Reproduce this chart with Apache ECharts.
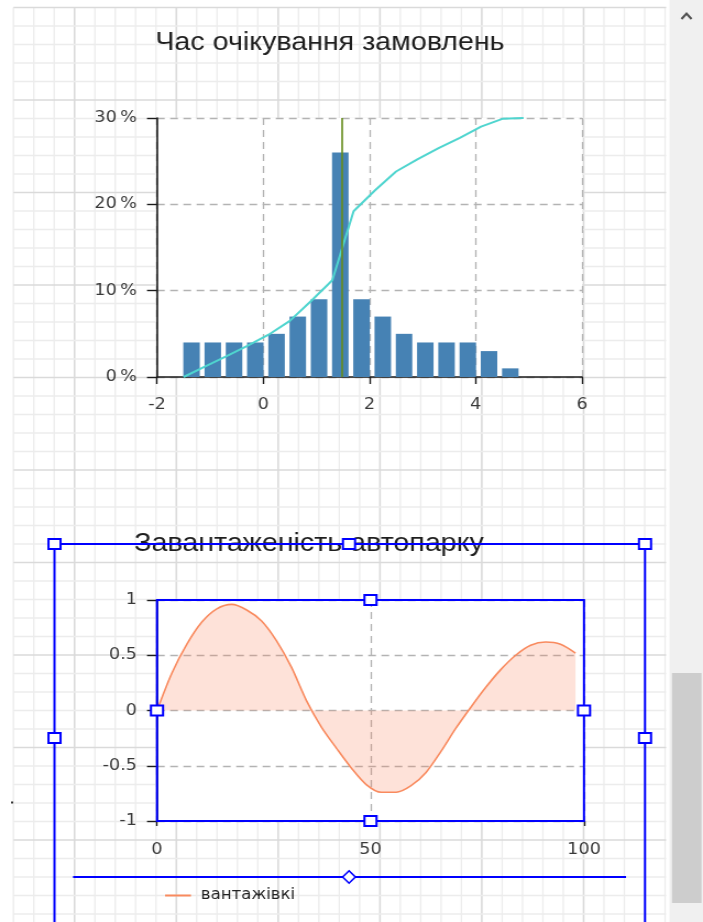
<!DOCTYPE html>
<html>
<head>
<meta charset="utf-8">
<script src="https://cdn.jsdelivr.net/npm/echarts@6/dist/echarts.min.js"></script>
<style>
  html, body { margin: 0; padding: 0; background: #ffffff; overflow: hidden; }
  #wrap { width: 703px; height: 922px; overflow: hidden; position: relative; }
  #chart { width: 639px; height: 922px; transform: scaleX(1.100156); transform-origin: 0 0; }
</style>
</head>
<body>
<div id="wrap"><div id="chart"></div></div>
<script>
// ---------------- data ----------------
const waitTitle = 'Час очікування замовлень';
const waitBinCenters = [-1.35, -0.95, -0.55, -0.15, 0.25, 0.65, 1.05, 1.45, 1.85, 2.25, 2.65, 3.05, 3.45, 3.85, 4.25, 4.65];
const waitBinPercent = [4, 4, 4, 4, 5, 7, 9, 26, 9, 7, 5, 4, 4, 4, 3, 1];
const waitCumX = [-1.5, -1.1, -0.7, -0.3, 0.1, 0.5, 0.9, 1.3, 1.7, 2.1, 2.5, 2.9, 3.3, 3.7, 4.1, 4.5, 4.9];
const waitCumPercent = [0, 1.2, 2.4, 3.6, 4.9, 6.5, 8.8, 11.2, 19.2, 21.6, 23.8, 25.2, 26.5, 27.7, 29.0, 29.9, 30];
const waitMean = 1.47;
const waitXTicks = [-2, 0, 2, 4, 6];
const waitYTicks = [0, 10, 20, 30];

const loadTitle = 'Завантаженість автопарку';
const loadSeriesName = 'вантажівкі';
const loadX = [0, 3.5, 7, 10.5, 14, 17.5, 21, 24.5, 28, 31.5, 35, 38.5, 42, 45.5, 49, 52.5, 56, 59.5, 63, 66.5, 70, 73.5, 77, 80.5, 84, 87.5, 91, 94.5, 98];
const loadY = [0, 0.34, 0.6, 0.8, 0.92, 0.96, 0.91, 0.81, 0.63, 0.39, 0.09, -0.15, -0.34, -0.52, -0.67, -0.74, -0.74, -0.68, -0.56, -0.37, -0.16, 0.03, 0.21, 0.37, 0.5, 0.59, 0.62, 0.6, 0.52];
const loadXTicks = [0, 50, 100];
const loadYTicks = [-1, -0.5, 0, 0.5, 1];

// ---------------- layout helpers ----------------
const W = 639;
const SX = 703 / W;
const px = v => v / SX;           // screen x -> drawing x

const labelFont = 'DejaVu Sans';
const titleFont = 'Liberation Sans';
const axisDark = '#1c1c1c';
const splitGray = '#b3b3b3';
const blue = '#0000ff';

const g1 = { left: px(157), top: 118, width: px(582) - px(157), height: 259 };
const g2 = { left: px(157), top: 600, width: px(584) - px(157), height: 221 };

// ---------------- decorative background ----------------
function backgroundGrid() {
  const els = [];
  const x0 = 12.2, y0 = 7.5, cw = 18.51, ch = 18.5, xEnd = 605.5, yEnd = 922;
  for (let k = 0; x0 + k * cw <= xEnd; k++) {
    const x = x0 + k * cw;
    const major = k % 5 === 3;
    els.push({ type: 'line', silent: true, z: -10,
      shape: { x1: x, y1: y0, x2: x, y2: yEnd },
      style: { stroke: major ? '#dadada' : '#ececec', lineWidth: major ? 1.6 : 1.3 } });
  }
  for (let k = 0; y0 + k * ch <= yEnd; k++) {
    const y = y0 + k * ch;
    const major = k % 5 === 0;
    els.push({ type: 'line', silent: true, z: -10,
      shape: { x1: x0, y1: y, x2: xEnd, y2: y },
      style: { stroke: major ? '#dadada' : '#ececec', lineWidth: major ? 1.6 : 1.3 } });
  }
  return els;
}

function handle(cx, cy) {
  return { type: 'rect', silent: true, z: 200,
    shape: { x: cx - 5.5, y: cy - 5, width: 11, height: 10 },
    style: { fill: '#ffffff', stroke: blue, lineWidth: 2 } };
}

function overlays() {
  const els = [];
  // outer selection frame
  const oL = px(54.5), oR = px(645), oT = 544;
  els.push({ type: 'rect', silent: true, z: 190,
    shape: { x: oL, y: oT, width: oR - oL, height: 500 },
    style: { fill: 'none', stroke: blue, lineWidth: 2 } });
  els.push(handle(oL, oT), handle(px(349), oT), handle(oR, oT), handle(oL, 738), handle(oR, 738));
  // inner plot frame
  els.push({ type: 'rect', silent: true, z: 190,
    shape: { x: g2.left, y: g2.top, width: g2.width, height: g2.height },
    style: { fill: 'none', stroke: blue, lineWidth: 2 } });
  const cx = g2.left + g2.width / 2, cy = g2.top + g2.height / 2;
  els.push(handle(cx, g2.top), handle(g2.left, cy), handle(g2.left + g2.width, cy), handle(cx, g2.top + g2.height));
  // horizontal guide with diamond
  els.push({ type: 'line', silent: true, z: 190,
    shape: { x1: px(73), y1: 877, x2: px(626), y2: 877 },
    style: { stroke: blue, lineWidth: 2 } });
  const dx = px(349), dy = 877, hw = 5.8, hh = 6.2;
  els.push({ type: 'polygon', silent: true, z: 200,
    shape: { points: [[dx, dy - hh], [dx + hw, dy], [dx, dy + hh], [dx - hw, dy]] },
    style: { fill: '#ffffff', stroke: blue, lineWidth: 1.6 } });
  // stray dot
  els.push({ type: 'rect', silent: true, z: 5, shape: { x: 10, y: 801.5, width: 2, height: 2 }, style: { fill: '#333' } });
  // scrollbar
  els.push({ type: 'rect', silent: true, z: 50, shape: { x: px(669.5), y: 0, width: W - px(669.5), height: 922 }, style: { fill: '#f0f0f0' } });
  els.push({ type: 'rect', silent: true, z: 51, shape: { x: px(672), y: 673, width: px(701.5) - px(672), height: 230 }, style: { fill: '#cdcdcd' } });
  els.push({ type: 'polyline', silent: true, z: 52,
    shape: { points: [[px(681.5), 19], [px(686.5), 13.5], [px(691.5), 19]] },
    style: { stroke: '#505050', lineWidth: 2, fill: 'none' } });
  return els;
}

// ---------------- axes ----------------
function valueAxis(gridIndex, ticks, opts) {
  return Object.assign({
    gridIndex: gridIndex, type: 'value',
    min: ticks[0], max: ticks[ticks.length - 1], interval: ticks[1] - ticks[0],
    axisLine: { show: true, onZero: false, lineStyle: { color: axisDark, width: 1.6 } },
    axisTick: { show: true, length: 7, lineStyle: { color: axisDark, width: 1.4 } },
    axisLabel: { margin: 19, fontFamily: labelFont, fontSize: 16, color: '#3a3a3a' },
    splitLine: { show: true, lineStyle: { color: splitGray, type: [7, 5], width: 1.3 } }
  }, opts || {});
}

const chart = echarts.init(document.getElementById('chart'), null, { renderer: 'canvas' });

const option = {
  backgroundColor: 'transparent',
  animation: false,
  title: [
    { text: waitTitle, left: px(330), top: 29.5, textAlign: 'center', padding: 0,
      textStyle: { fontFamily: titleFont, fontSize: 26, fontWeight: 'normal', color: '#1e1e1e' } },
    { text: loadTitle, left: px(309), top: 530.5, textAlign: 'center', padding: 0,
      textStyle: { fontFamily: titleFont, fontSize: 26, fontWeight: 'normal', color: '#1e1e1e' } }
  ],
  grid: [
    Object.assign({ show: true, backgroundColor: '#ffffff', borderWidth: 0, containLabel: false }, g1),
    Object.assign({ show: true, backgroundColor: '#ffffff', borderWidth: 0, containLabel: false }, g2)
  ],
  xAxis: [
    valueAxis(0, waitXTicks, { axisLabel: { margin: 20, fontFamily: labelFont, fontSize: 16, color: '#3a3a3a' } }),
    valueAxis(1, loadXTicks, { axisTick: { show: true, length: 5, lineStyle: { color: axisDark, width: 1.4 } },
      axisLabel: { margin: 21, fontFamily: labelFont, fontSize: 16, color: '#3a3a3a' } })
  ],
  yAxis: [
    valueAxis(0, waitYTicks, { axisTick: { show: true, length: px(10), lineStyle: { color: axisDark, width: 1.4 } },
      axisLabel: { margin: px(20), fontFamily: labelFont, fontSize: 16, color: '#3a3a3a', formatter: '{value}\u202F%' } }),
    valueAxis(1, loadYTicks, { axisTick: { show: true, length: px(10), lineStyle: { color: axisDark, width: 1.4 } },
      axisLabel: { margin: px(20), fontFamily: labelFont, fontSize: 16, color: '#3a3a3a' } })
  ],
  legend: {
    data: [{ name: loadSeriesName, icon: 'rect' }],
    left: px(165), top: 888, itemWidth: px(26), itemHeight: 2, itemGap: 10, padding: 0,
    itemStyle: { color: '#f98a5e', borderWidth: 0 },
    textStyle: { fontFamily: labelFont, fontSize: 15, color: '#222', padding: [0, 0, 0, 4] }
  },
  graphic: { elements: backgroundGrid().concat(overlays()) },
  series: [
    {
      type: 'bar', xAxisIndex: 0, yAxisIndex: 0, silent: true,
      data: waitBinCenters.map((c, i) => [c, waitBinPercent[i]]),
      barWidth: px(16.5),
      itemStyle: { color: '#4682B4' },
      markLine: {
        silent: true, symbol: 'none', label: { show: false }, animation: false,
        lineStyle: { type: 'solid', color: '#668c1c', width: 1.6 },
        data: [{ xAxis: waitMean }],
        z: 10
      }
    },
    {
      type: 'line', xAxisIndex: 0, yAxisIndex: 0, silent: true, symbol: 'none',
      data: waitCumX.map((x, i) => [x, waitCumPercent[i]]),
      lineStyle: { color: '#4fd5cf', width: 2 }, z: 3
    },
    {
      name: loadSeriesName, type: 'line', xAxisIndex: 1, yAxisIndex: 1, silent: true,
      symbol: 'none', smooth: 0.3,
      data: loadX.map((x, i) => [x, loadY[i]]),
      lineStyle: { color: '#f98a5e', width: 1.6 },
      itemStyle: { color: '#f98a5e' },
      areaStyle: { color: 'rgba(250, 128, 90, 0.33)' }
    }
  ]
};
chart.setOption(option);
</script>
</body>
</html>
